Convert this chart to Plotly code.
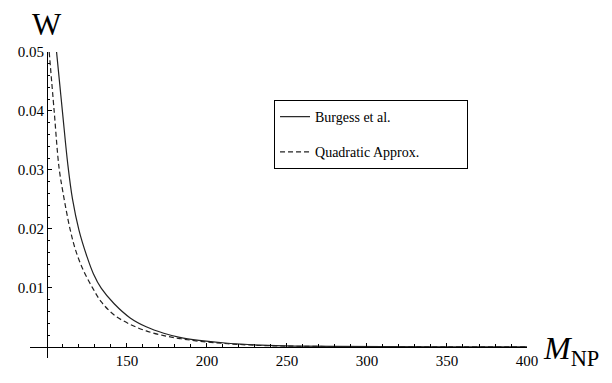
import plotly.graph_objects as go

# values
m_burgess = [106, 108, 110, 113, 116, 120, 125, 129, 134, 142, 152, 162, 173, 183, 195, 213, 234, 255, 280, 310, 350, 400]
w_burgess = [0.050, 0.0445, 0.039, 0.031, 0.025, 0.0198, 0.0153, 0.0124, 0.0099, 0.0073, 0.0049, 0.0034,
             0.0023, 0.0016, 0.0011, 0.0006, 0.00028, 0.00013, 0.00006, 0.00003, 0.00001, 0.000004]

m_quad = [101.4, 104.5, 107.5, 110, 114.4, 118, 122.7, 128.5, 134, 142, 152, 162, 173, 183, 195, 213, 234, 255, 280, 310, 350, 400]
w_quad = [0.050, 0.040, 0.0305, 0.0262, 0.020, 0.0163, 0.0130, 0.0100, 0.0076, 0.0054, 0.0038, 0.0027,
          0.0019, 0.0014, 0.00095, 0.00052, 0.00022, 0.0001, 0.00004, 0.00002, 0.00001, 0.000004]

x_ticks = [150, 200, 250, 300, 350, 400]
y_ticks = [0.01, 0.02, 0.03, 0.04, 0.05]
y_tick_text = ["0.01", "0.02", "0.03", "0.04", "0.05"]

x_range = [89.4, 400]
y_range = [-0.0019, 0.05]
x_cross = 100  # where the vertical axis sits

serif = "Liberation Serif"
pad = "\u00a0" * 12  # widen the legend box a bit, like the original

fig = go.Figure()
fig.add_trace(go.Scatter(x=m_burgess, y=w_burgess, mode="lines", name="Burgess et al." + pad,
                         legendgroup="a",
                         line=dict(color="#222222", width=1.2, shape="spline", smoothing=1)))
fig.add_trace(go.Scatter(x=m_quad, y=w_quad, mode="lines", name="Quadratic Approx." + pad,
                         legendgroup="b",
                         line=dict(color="#222222", width=1.2, dash="5px,3px", shape="spline", smoothing=1)))

# axes cross at (100, 0), like the Mathematica original
x_pos = (0 - y_range[0]) / (y_range[1] - y_range[0])
y_pos = (x_cross - x_range[0]) / (x_range[1] - x_range[0])

fig.update_xaxes(
    range=x_range, anchor="free", position=x_pos,
    showgrid=False, zeroline=False,
    showline=True, linecolor="black", linewidth=1,
    tickmode="array", tickvals=x_ticks,
    ticks="inside", ticklen=4, tickcolor="black",
    minor=dict(tickmode="array", tickvals=list(range(110, 400, 10)), ticks="inside",
               ticklen=2.5, tickcolor="black", showgrid=False),
    tickfont=dict(family=serif, size=15, color="black"),
)
fig.update_yaxes(
    range=y_range, anchor="free", position=y_pos,
    showgrid=False, zeroline=False,
    showline=True, linecolor="black", linewidth=1,
    tickmode="array", tickvals=y_ticks, ticktext=y_tick_text,
    ticks="inside", ticklen=4, tickcolor="black",
    minor=dict(tickmode="array", tickvals=[i * 0.002 for i in range(1, 25)], ticks="inside",
               ticklen=2.5, tickcolor="black", showgrid=False),
    tickfont=dict(family=serif, size=15, color="black"),
)

fig.add_annotation(text="W", x=x_cross, xref="x", y=1, yref="paper",
                   xanchor="center", yanchor="bottom", yshift=8, showarrow=False,
                   font=dict(family=serif, size=31, color="black"))
fig.add_annotation(text="<i>M</i><sub>NP</sub>", x=400, xref="x", y=0, yref="y",
                   xanchor="left", yanchor="middle", xshift=14, yshift=-4, showarrow=False,
                   font=dict(family=serif, size=32, color="black"))

fig.update_layout(
    width=612, height=383,
    margin=dict(l=30, r=85, t=52, b=25),
    paper_bgcolor="white", plot_bgcolor="white",
    showlegend=True,
    legend=dict(x=0.491, y=0.843, xanchor="left", yanchor="top",
                bordercolor="black", borderwidth=1, bgcolor="white",
                tracegroupgap=14,
                font=dict(family=serif, size=14, color="black")),
)

# drop the default page margin so the figure sits at the window's corner
fig.write_html("out.html", config={"displayModeBar": False},
               post_script="document.body.style.margin = '0';")
